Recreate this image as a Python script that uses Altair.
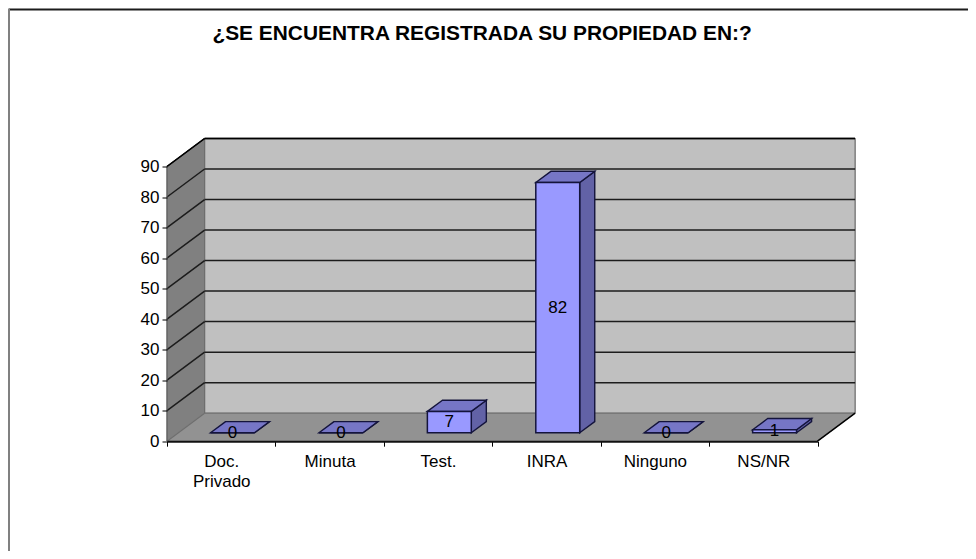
import altair as alt
import pandas as pd

categories = ["Doc. Privado", "Minuta", "Test.", "INRA", "Ninguno", "NS/NR"]
values = [0, 0, 7, 82, 0, 1]
y_ticks = [0, 10, 20, 30, 40, 50, 60, 70, 80, 90]

FONT = "Liberation Sans"
CAT_PX = 108.42       # pixels of one category on the front plane
VAL_PX = 3.052        # pixels of one value unit
DEPTH_X = 37.6 / CAT_PX  # chart depth in category units
DEPTH_Y = 28.0 / VAL_PX  # chart depth in value units
BAR_W = 0.405
N = len(categories)
X_MAX = N + DEPTH_X
Y_MAX = 90 + DEPTH_Y
W = X_MAX * CAT_PX
H = Y_MAX * VAL_PX

x_q = alt.Scale(domain=[0, X_MAX], range=[0, W])
y_q = alt.Scale(domain=[0, Y_MAX], range=[H, 0], nice=False)

y_axis = alt.Axis(
    values=y_ticks,
    domain=False,
    grid=False,
    zindex=1,
    labelOverlap=False,
    labelFont=FONT,
    labelFontSize=17,
    labelColor="#000000",
    labelPadding=3,
    tickColor="#000000",
    tickSize=5,
    tickWidth=1,
)


def X(f="x", **k):
    return alt.X(f"{f}:Q", scale=x_q, axis=None, title=None, **k)


def Y(f="y", **k):
    return alt.Y(f"{f}:Q", scale=y_q, axis=y_axis, title=None, **k)


def vface(rows, fill, stroke=None, sw=1.0):
    df = pd.DataFrame(rows, columns=["x", "y", "y2", "g"])
    return (
        alt.Chart(df)
        .mark_area(orient="vertical", fill=fill, stroke=stroke or fill, strokeWidth=sw, opacity=1)
        .encode(x=X("x"), y=Y("y"), y2="y2:Q", detail="g:N")
    )


def hface(rows, fill, stroke=None, sw=1.0):
    df = pd.DataFrame(rows, columns=["y", "x", "x2", "g"])
    return (
        alt.Chart(df)
        .mark_area(orient="horizontal", fill=fill, stroke=stroke or fill, strokeWidth=sw, opacity=1)
        .encode(y=Y("y"), x=X("x"), x2="x2:Q", detail="g:N")
    )


def segs(rows, color, sw):
    df = pd.DataFrame(rows, columns=["x", "x2", "y", "y2"])
    return (
        alt.Chart(df)
        .mark_rule(color=color, strokeWidth=sw, clip=False)
        .encode(x=X("x"), x2="x2:Q", y=Y("y"), y2="y2:Q")
    )


# walls and floor
back = vface([(DEPTH_X, DEPTH_Y, Y_MAX, "b"), (X_MAX, DEPTH_Y, Y_MAX, "b")], "#C0C0C0")
left = vface([(0, 0, 90, "l"), (DEPTH_X, DEPTH_Y, Y_MAX, "l")], "#808080")
floor = hface([(0, 0, N, "f"), (DEPTH_Y, DEPTH_X, X_MAX, "f")], "#929292")

grid_rows = []
for v in y_ticks[1:]:
    grid_rows.append((0, DEPTH_X, v, v + DEPTH_Y))
    grid_rows.append((DEPTH_X, X_MAX, v + DEPTH_Y, v + DEPTH_Y))
grid = segs(grid_rows, "#1c1c1c", 1.5)
top_edges = segs(
    [(DEPTH_X, X_MAX, Y_MAX, Y_MAX), (0, DEPTH_X, 90, Y_MAX)], "#000000", 1.5
)
grey_edges = segs(
    [
        (X_MAX, X_MAX, DEPTH_Y, Y_MAX),
        (DEPTH_X, DEPTH_X, DEPTH_Y, Y_MAX),
        (DEPTH_X, X_MAX, DEPTH_Y, DEPTH_Y),
        (0, DEPTH_X, 0, DEPTH_Y),
    ],
    "#6e6e6e",
    1.2,
)
floor_edge = segs([(N, X_MAX, 0, DEPTH_Y)], "#000000", 1.5)
left_edge = segs([(0, 0, 0, 90)], "#555555", 1)

# bars
d0x, d1x = 0.3 * DEPTH_X, 0.7 * DEPTH_X
d0y, d1y = 0.3 * DEPTH_Y, 0.7 * DEPTH_Y
tops, sides = [], []
for i, (c, v) in enumerate(zip(categories, values)):
    l = i + 0.5 - BAR_W / 2
    r = i + 0.5 + BAR_W / 2
    tops += [(v + d0y, l + d0x, r + d0x, c), (v + d1y, l + d1x, r + d1x, c)]
    sides += [(r + d0x, d0y, v + d0y, c), (r + d1x, d1y, v + d1y, c)]

BAR_EDGE = "#14143c"
bar_sides = vface(sides, "#6262A6", BAR_EDGE, 1.4)
bar_tops = hface(tops, "#7676C6", BAR_EDGE, 1.4)

df = pd.DataFrame({"cat": categories, "value": values})
df["base"] = 0

bar_fronts = (
    alt.Chart(df)
    .mark_bar(
        fill="#9999FF",
        stroke=BAR_EDGE,
        strokeWidth=1.5,
        size=BAR_W * CAT_PX,
        xOffset=d0x * CAT_PX,
        yOffset=-d0y * VAL_PX,
        y2Offset=-d0y * VAL_PX,
    )
    .encode(
        x=alt.X(
            "cat:N",
            sort=categories,
            title=None,
            scale=alt.Scale(domain=categories, range=[0, N * CAT_PX], paddingInner=0, paddingOuter=0),
            axis=alt.Axis(
                orient="bottom",
                zindex=1,
                labelAngle=0,
                labelAlign="center",
                labelFont=FONT,
                labelFontSize=17,
                labelLineHeight=20,
                labelColor="#000000",
                labelPadding=7,
                labelLimit=200,
                labelExpr="datum.label == 'Doc. Privado' ? ['Doc.', 'Privado'] : datum.label",
                tickBand="extent",
                tickColor="#000000",
                tickSize=5,
                tickWidth=1,
                domainColor="#111111",
                domainWidth=2,
                grid=False,
            ),
        ),
        y=alt.Y("value:Q", scale=y_q, axis=y_axis, title=None),
        y2="base:Q",
    )
)

df_lab = df.copy()
df_lab["lx"] = [i + 0.5 + d0x for i in range(N)]
df_lab["ly"] = [v / 2 + d0y for v in values]
labels = (
    alt.Chart(df_lab)
    .mark_text(font=FONT, fontSize=17, color="#000000", baseline="middle", align="center")
    .encode(x=X("lx"), y=Y("ly"), text="value:Q")
)

PAD_L, PAD_T = 159, 130.5
LEFT_PX, ZERO_PX = 167, 440.7  # page position of the axes' origin


def page_x(px):
    return (px - LEFT_PX) / CAT_PX


def page_y(py):
    return (ZERO_PX - py) / VAL_PX


frame_top = segs([(page_x(9), page_x(968), page_y(9), page_y(9))], "#1c1c1c", 2)
frame_left = segs([(page_x(9), page_x(9), page_y(8), page_y(551))], "#808080", 2)

chart = (
    alt.layer(
        frame_top, frame_left, back, left, floor, grey_edges, grid, top_edges, left_edge, floor_edge,
        bar_sides, bar_tops, bar_fronts, labels,
    )
    .resolve_scale(x="independent")
    .properties(
        width=W,
        height=H,
        title=alt.TitleParams(
            "¿SE ENCUENTRA REGISTRADA SU PROPIEDAD EN:?",
            font=FONT,
            fontSize=20.9,
            fontWeight="bold",
            color="#000000",
            anchor="middle",
            frame="group",
            dx=-29,
            offset=-36.5,
        ),
        autosize=alt.AutoSizeParams(type="none"),
        padding={"left": PAD_L, "top": PAD_T, "right": 960 - PAD_L - W, "bottom": 543 - PAD_T - H},
        background="white",
    )
    .configure_view(stroke=None)
)

chart.save("out.html", embed_options={"renderer": "svg", "actions": False})
